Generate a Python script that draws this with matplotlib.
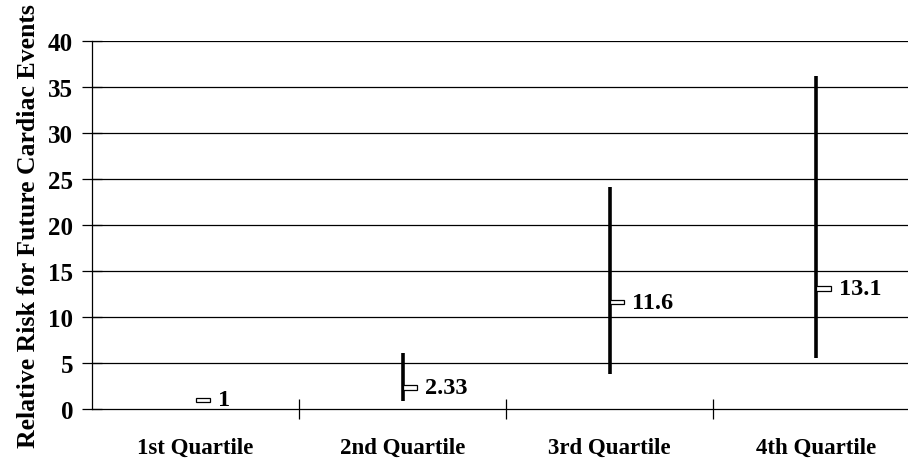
import numpy as np
import matplotlib.pyplot as plt

quartiles = ['1st Quartile', '2nd Quartile', '3rd Quartile', '4th Quartile']
rr = [1, 2.33, 11.6, 13.1]
rr_low = [1, 0.9, 3.8, 5.5]
rr_high = [1, 6.1, 24.1, 36.2]
labels = ['1', '2.33', '11.6', '13.1']

plt.rcParams['font.family'] = ['Liberation Serif', 'DejaVu Serif']
plt.rcParams['font.weight'] = 'bold'

fig = plt.figure(figsize=(9.08, 4.6), dpi=100)
# right edge runs a bit past the figure, as in the original
ax = fig.add_axes([92/908, 50/460, 828/908, 368/460])

x = np.arange(len(quartiles))

# grid lines
for v in range(5, 45, 5):
    ax.axhline(v, color='black', lw=0.9, zorder=1)

# range lines
for i in range(len(x)):
    if rr_high[i] > rr_low[i]:
        ax.vlines(x[i], rr_low[i], rr_high[i], color='black', lw=2.6, zorder=3)

# open marker for the point estimate
ax.bar(x, [0.45]*len(x), width=0.07, bottom=np.array(rr) - 0.225, align='edge',
       color='white', edgecolor='black', lw=0.9, zorder=4)

for i in range(len(x)):
    ax.text(x[i] + 0.11, rr[i], labels[i], va='center', ha='left',
            fontsize=17.5, fontweight='bold', zorder=5)

ax.set_xlim(-0.5, 3.5)
ax.set_ylim(0, 40)
ax.set_yticks(range(0, 45, 5))
ax.set_xticks([0.5, 1.5, 2.5])
ax.set_xticklabels([])
ax.set_xticks(x, minor=True)
ax.set_xticklabels(quartiles, minor=True, fontsize=16.5, fontweight='bold')
ax.tick_params(axis='x', which='minor', length=0, pad=20)
ax.tick_params(axis='x', which='major', direction='inout', length=15, width=0.9)
ax.tick_params(axis='y', direction='inout', length=15, width=0.9, labelsize=18, pad=6)
for t in ax.get_yticklabels():
    t.set_fontweight('bold')

ax.spines['top'].set_visible(False)
ax.spines['right'].set_visible(False)
ax.spines['left'].set_linewidth(0.9)
ax.spines['bottom'].set_linewidth(0.9)

ax.set_ylabel('Relative Risk for Future Cardiac Events', fontsize=18.5, fontweight='bold', labelpad=6)

fig.savefig('out.png', dpi=100)
